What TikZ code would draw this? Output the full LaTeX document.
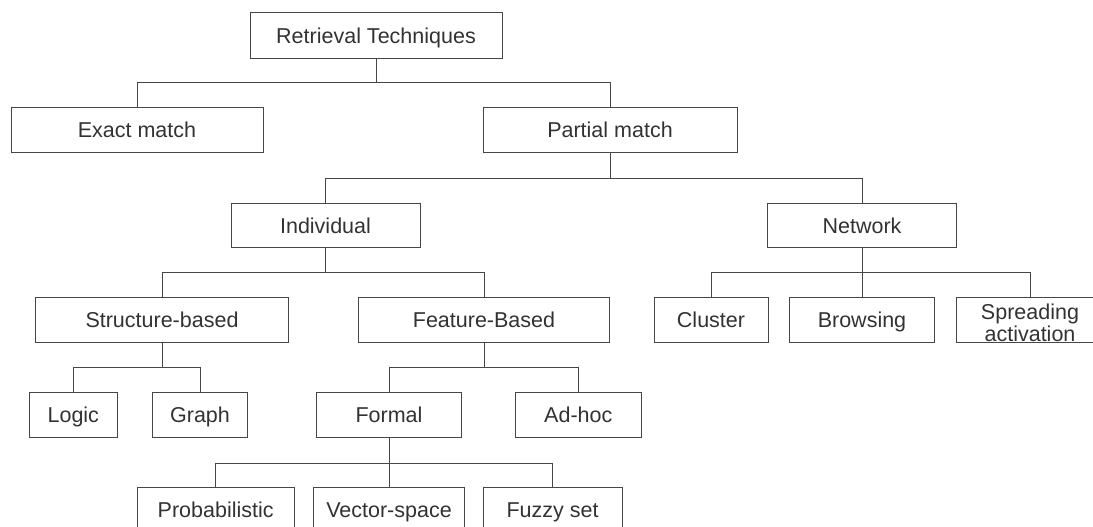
\documentclass[tikz,border=0pt]{standalone}
\usepackage{fontspec}
\setmainfont{Liberation Sans}
\definecolor{linecol}{RGB}{70,70,70}
\definecolor{txtcol}{RGB}{50,50,50}
\begin{document}
\begin{tikzpicture}[x=1pt,y=-1pt,
  box/.style={draw=linecol, line width=0.9pt, minimum height=44.4pt, inner sep=0pt,
    text=txtcol, font=\fontsize{21.5}{21}\selectfont, text height=15.4pt, text depth=0pt},
  link/.style={draw=linecol, line width=0.9pt}]
\useasboundingbox (0,0) rectangle (1093,527);

% bus levels of the tree
\coordinate (b1) at (0,82.3);
\coordinate (b2) at (0,178);
\coordinate (b3) at (0,272);
\coordinate (b4) at (0,367.7);
\coordinate (b5) at (0,463);

% level 0
\node[box, minimum width=252pt, minimum height=45.6pt] (rt) at (376,35.5) {Retrieval Techniques};
% level 1
\node[box, minimum width=252pt] (exact) at (137,130) {Exact match};
\node[box, minimum width=254pt] (partial) at (610,130) {Partial match};
% level 2
\node[box, minimum width=189pt] (indiv) at (325.5,225.5) {Individual};
\node[box, minimum width=189.4pt] (network) at (862,225.5) {Network};
% level 3
\node[box, minimum width=253.4pt] (struct) at (162,320) {Structure-based};
\node[box, minimum width=251.4pt] (feature) at (484,320) {Feature-Based};
\node[box, minimum width=114pt] (cluster) at (711,320) {Cluster};
\node[box, minimum width=144.6pt] (browse) at (862,320) {Browsing};
\node[box, minimum width=147pt, align=center, font=\fontsize{21.5}{22}\selectfont,
  text height=42pt] (spread) at (1030,320) {Spreading\\activation};
% level 4
\node[box, minimum width=88.7pt] (logic) at (73.3,415) {Logic};
\node[box, minimum width=94.6pt] (graph) at (200,415) {Graph};
\node[box, minimum width=145.4pt] (formal) at (389,415) {Formal};
\node[box, minimum width=126pt] (adhoc) at (578.3,415) {Ad-hoc};
% level 5
\node[box, minimum width=157.3pt] (prob) at (215.7,509.5) {Probabilistic};
\node[box, minimum width=151.4pt] (vector) at (389,509.5) {Vector-space};
\node[box, minimum width=139pt] (fuzzy) at (552.5,509.5) {Fuzzy set};

% connectors
\draw[link] (rt.south) -- (rt.south |- b1) -| (exact.north);
\draw[link] (rt.south |- b1) -| (partial.north);

\draw[link] (partial.south) -- (partial.south |- b2) -| (indiv.north);
\draw[link] (partial.south |- b2) -| (network.north);

\draw[link] (indiv.south) -- (indiv.south |- b3) -| (struct.north);
\draw[link] (indiv.south |- b3) -| (feature.north);

\draw[link] (network.south) -- (browse.north);
\draw[link] (network.south |- b3) -| (cluster.north);
\draw[link] (network.south |- b3) -| (spread.north);

\draw[link] (struct.south) -- (struct.south |- b4) -| (logic.north);
\draw[link] (struct.south |- b4) -| (graph.north);

\draw[link] (feature.south) -- (feature.south |- b4) -| (formal.north);
\draw[link] (feature.south |- b4) -| (adhoc.north);

\draw[link] (formal.south) -- (vector.north);
\draw[link] (formal.south |- b5) -| (prob.north);
\draw[link] (formal.south |- b5) -| (fuzzy.north);
\end{tikzpicture}
\end{document}
